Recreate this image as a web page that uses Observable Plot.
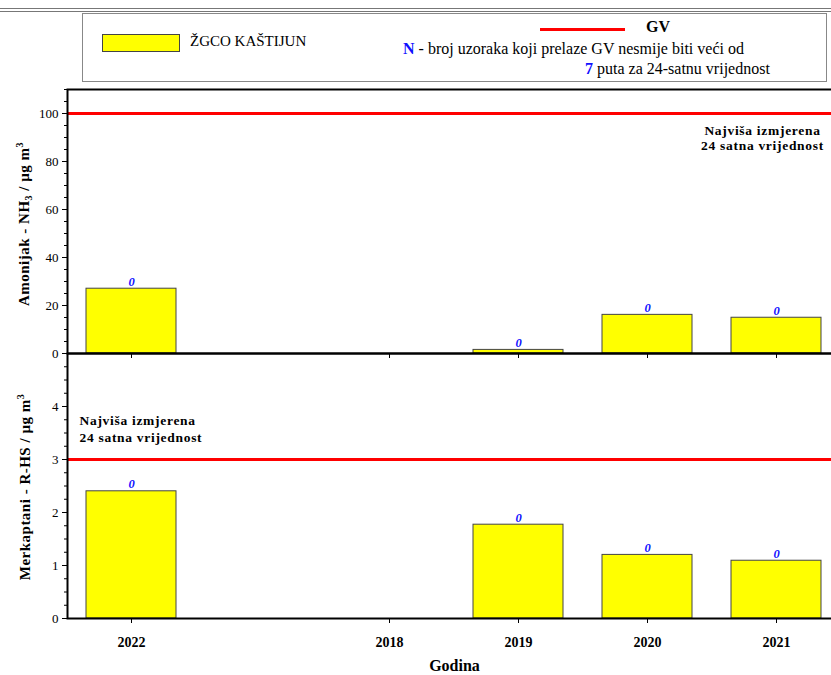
<!DOCTYPE html>
<html>
<head>
<meta charset="utf-8">
<script src="https://cdn.jsdelivr.net/npm/d3@7"></script>
<script src="https://cdn.jsdelivr.net/npm/@observablehq/plot@0.6"></script>
<style>
  body { margin: 0; background: #fff; font-family: "Liberation Serif", serif; }
  #page { position: relative; width: 831px; height: 675px; overflow: hidden; }
  #page svg { overflow: visible; }
  .abs { position: absolute; white-space: nowrap; }
  .rule2 { left: 0; width: 831px; height: 0; border-top: 1px solid #777; }
  #legend { left: 82px; top: 13px; width: 745px; height: 69px; border: 1px solid #888; box-sizing: border-box; }
  .ylab { font-weight: bold; font-size: 15px; letter-spacing: 0.5px; transform: translate(-50%, -50%) rotate(-90deg); }
  .ylab sub { font-size: 10px; vertical-align: -3px; }
  .ylab sup { font-size: 10px; vertical-align: 6px; }
  .blue { color: #1010ff; font-weight: bold; }
  [aria-label="x-axis tick label"] { font-weight: bold; font-size: 14px; }
  [aria-description="note"] { letter-spacing: 0.7px; }
</style>
</head>
<body>
<div id="page">
  <div class="abs rule2" style="top:8px"></div>
  <div class="abs rule2" style="top:11px"></div>
  <div class="abs" id="legend"></div>
  <div class="abs" style="left:102px;top:34px;width:78px;height:18px;background:#ffff00;border:1px solid #444;box-sizing:border-box"></div>
  <div class="abs" style="left:190px;top:33px;font-size:15px">ŽGCO KAŠTIJUN</div>
  <div class="abs" style="left:540px;top:28px;width:85px;height:3px;background:#ff0000"></div>
  <div class="abs" style="left:646px;top:18px;font-size:16px;font-weight:bold">GV</div>
  <div class="abs" style="left:403px;top:40px;font-size:16px"><span class="blue">N</span> - broj uzoraka koji prelaze GV nesmije biti veći od</div>
  <div class="abs" style="left:585px;top:60px;font-size:16px"><span class="blue">7</span> puta za 24-satnu vrijednost</div>
  <div class="abs ylab" style="left:24px;top:224px">Amonijak - NH<sub>3</sub> / µg m<sup>3</sup></div>
  <div class="abs ylab" style="left:24px;top:487px">Merkaptani - R-HS / µg m<sup>3</sup></div>
  <div class="abs" id="top" style="left:0;top:80px"></div>
  <div class="abs" id="bottom" style="left:0;top:353px"></div>
</div>
<script>
"use strict";

// categories along x; the unnamed slot is an empty year without a tick
const years     = ["2022", "", "2018", "2019", "2020", "2021"];
const tickYears = ["2022", "2018", "2019", "2020", "2021"];

// highest measured 24-hour values
const nh3     = [27.0, null, null, 1.5, 16.1, 14.9];
const rhs     = [2.4, null, null, 1.77, 1.2, 1.09];
// N - samples over the limit value
const nExceed = [0, null, null, 0, 0, 0];

// limit values (GV)
const gvNH3 = 100;
const gvRHS = 3;

const nh3Ticks = [0, 20, 40, 60, 80, 100];
const rhsTicks = [0, 1, 2, 3, 4];

function rows(values) {
  return years
    .map((year, i) => ({ year, value: values[i], n: nExceed[i] }))
    .filter(d => d.value != null);
}

const note = "Najviša izmjerena\n24 satna vrijednost";

function panel(o) {
  const data = rows(o.values);
  return Plot.plot({
    width: 831,
    height: o.height,
    marginTop: o.marginTop,
    marginBottom: o.marginBottom,
    marginLeft: 67,
    marginRight: -10,
    x: { domain: years, paddingInner: 0.3, paddingOuter: 0.15, axis: null },
    y: { domain: o.domain, axis: null },
    style: { fontFamily: "Liberation Serif", fontSize: "13px", background: "transparent", color: "#000", overflow: "visible" },
    marks: [
      Plot.axisY({ ticks: o.minor, tickSize: 3, tickFormat: () => "", label: null }),
      Plot.axisY({ ticks: o.ticks, tickSize: 5, tickPadding: 4, tickFormat: d => String(d), label: null }),
      Plot.axisX({ ticks: tickYears, tickSize: 5, tickPadding: 14, label: null,
                   tickFormat: o.xLabels ? (d => d) : (() => "") }),
      Plot.barY(data, { x: "year", y: "value", fill: "#ffff00", stroke: "#444", strokeWidth: 1 }),
      Plot.text(data, { x: "year", y: "value", text: d => String(d.n), dy: -7,
                        fill: "#1010ff", fontStyle: "italic", fontWeight: "bold", fontSize: 12.5 }),
      Plot.ruleY([o.gv], { stroke: "#ff0000", strokeWidth: 3 }),
      Plot.text([note], { ...o.note, ariaDescription: "note" }),
      ...(o.xLabels ? [Plot.text(["Godina"], { frameAnchor: "bottom", dy: 52, fontWeight: "bold", fontSize: 16 })] : []),
      Plot.frame({ stroke: "#000", strokeWidth: 2 })
    ]
  });
}

document.getElementById("top").appendChild(panel({
  values: nh3, gv: gvNH3, domain: [0, 110],
  ticks: nh3Ticks, minor: d3.range(0, 111, 5),
  height: 274, marginTop: 9, marginBottom: 1, xLabels: false,
  note: { frameAnchor: "top-right", dx: -79, dy: 35, textAnchor: "middle", lineAnchor: "top",
          lineHeight: 1.12, fontWeight: "bold", fontSize: 13.5 }
}));

document.getElementById("bottom").appendChild(panel({
  values: rhs, gv: gvRHS, domain: [0, 5],
  ticks: rhsTicks, minor: d3.range(0, 5.01, 0.25),
  height: 322, marginTop: 0, marginBottom: 57, xLabels: true,
  note: { frameAnchor: "top-left", dx: 12, dy: 60, textAnchor: "start", lineAnchor: "top",
          lineHeight: 1.24, fontWeight: "bold", fontSize: 13.5 }
}));
</script>
</body>
</html>
